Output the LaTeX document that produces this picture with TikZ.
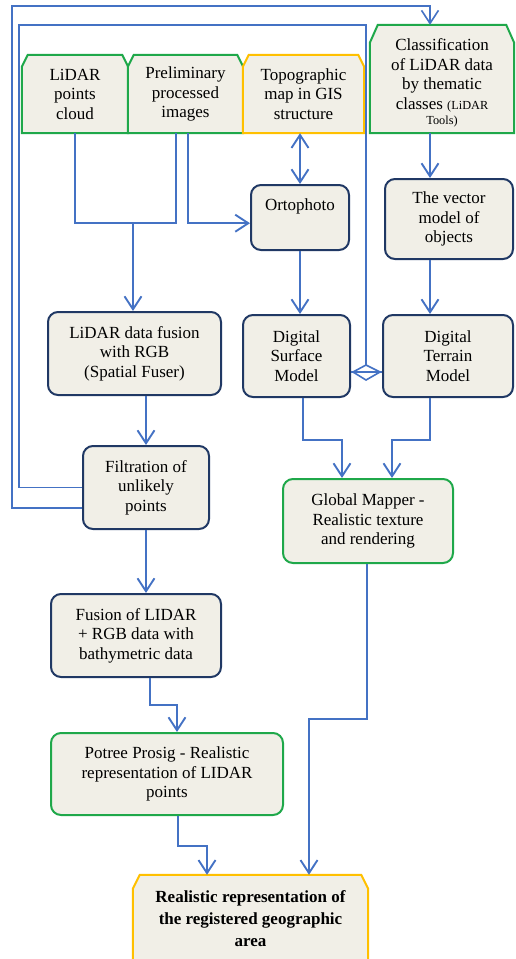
\documentclass[tikz,border=0pt]{standalone}
\usepackage{fontspec}
\setmainfont{Liberation Serif}
\usetikzlibrary{arrows.meta,calc,backgrounds}
\definecolor{fillc}{HTML}{F1EFE7}
\definecolor{navy}{HTML}{203864}
\definecolor{grn}{HTML}{1FA84A}
\definecolor{yel}{HTML}{FFC000}
\definecolor{lblue}{HTML}{4472C4}
% name, colour, chamfer x, chamfer y, extra height above the node's north edge
\newcommand\chambox[5]{%
 \begin{scope}[on background layer]
 \draw[line width=2pt, draw=#2, fill=fillc] (#1.south west) -- ($(#1.north west)+(0,#4-#5)$) -- ($(#1.north west)+(#3,-#5)$) -- ($(#1.north east)+(-#3,-#5)$) -- ($(#1.north east)+(0,#4-#5)$) -- (#1.south east) -- cycle;
 \end{scope}}
\begin{document}
\begin{tikzpicture}[x=1pt,y=-1pt,
  txt/.style={align=center, inner sep=2pt, font=\fontsize{17}{19.5}\selectfont},
  cnode/.style={txt, rectangle},
  rbox/.style={txt, rectangle, draw=navy, fill=fillc, line width=2pt, rounded corners=10pt},
  gbox/.style={rbox, draw=grn},
  ln/.style={draw=lblue, line width=1.9pt},
  arr/.style={ln, -{Straight Barb[length=13pt,width=17pt]}},
  dbl/.style={ln, {Straight Barb[length=13pt,width=17pt]}-{Straight Barb[length=13pt,width=17pt]}},
  fb/.style={draw=lblue, line width=1.6pt}]
\useasboundingbox (0,0) rectangle (516,959);

% chamfered boxes
\node[cnode, minimum width=106, minimum height=78] (lidar) at (75,94) {LiDAR\\points\\cloud};
\node[cnode, minimum width=115, minimum height=78] (prelim) at (185.5,94) {Preliminary\\processed\\images};
\node[cnode, minimum width=121, minimum height=78] (topo) at (303.5,94) {Topographic\\map in GIS\\structure};
\node[cnode, minimum width=144, minimum height=100] (classif) at (442,83) {Classification\\of LiDAR data\\by thematic\\classes {\fontsize{12.3}{15}\selectfont (LiDAR}\\[-4.5pt]{\fontsize{12.3}{15}\selectfont Tools)}};
\node[cnode, minimum width=235, minimum height=87, font=\bfseries\fontsize{17}{22}\selectfont] (real) at (250.5,918.5) {Realistic representation of\\the registered geographic\\area};
\chambox{lidar}{grn}{6}{12}{0}
\chambox{prelim}{grn}{6}{12}{0}
\chambox{topo}{yel}{6}{12}{0}
\chambox{classif}{grn}{8}{18}{8}
\chambox{real}{yel}{7}{14}{0}
\coordinate (ctop) at ($(classif.north)+(-12,-8)$);

% rounded boxes
\node[rbox, minimum width=98, minimum height=65] (ortho) at (300,217.5) {Ortophoto\\\strut};
\node[rbox, minimum width=128, minimum height=80] (vector) at (449,219) {The vector\\model of\\objects};
\node[rbox, minimum width=173, minimum height=83] (fusion) at (134.5,353.5) {LiDAR data fusion\\with RGB\\(Spatial Fuser)};
\node[rbox, minimum width=107, minimum height=82] (dsm) at (296.5,356) {Digital\\Surface\\Model};
\node[rbox, minimum width=130, minimum height=82] (dtm) at (448,356) {Digital\\Terrain\\Model};
\node[rbox, minimum width=126, minimum height=83] (filt) at (146,487.5) {Filtration of\\unlikely\\points};
\node[gbox, minimum width=170, minimum height=84] (gm) at (368,521) {Global Mapper -\\Realistic texture\\and rendering};
\node[rbox, minimum width=170, minimum height=83] (fuslid) at (136,635.5) {Fusion of LIDAR\\+ RGB data with\\bathymetric data};
\node[gbox, minimum width=232, minimum height=82] (potree) at (167,774) {Potree Prosig - Realistic\\representation of LIDAR\\points};

% connectors
\coordinate (j) at ($(lidar.south)+(0,90)$);
\coordinate (fin) at ($(fusion.north)+(-1.5,0)$);
\draw[ln] (lidar.south) -- (j) -| ([xshift=-9.5pt]prelim.south);
\draw[arr] (j -| fin) -- (fin);
\draw[arr] ([xshift=2.5pt]prelim.south) |- (ortho.west |- j);
\draw[dbl] (topo.south -| ortho.north) -- (ortho.north);
\draw[arr] (ortho.south) -- (ortho.south |- dsm.north);
\draw[arr] ([xshift=-12pt]classif.south) -- ([xshift=-12pt]classif.south |- vector.north);
\draw[arr] ([xshift=-19pt]vector.south) -- ([xshift=-19pt]vector.south |- dtm.north);
\draw[arr] (filt.north |- fusion.south) -- (filt.north);
\draw[arr] (filt.south) -- (filt.south |- fuslid.north);
\draw[arr] ([xshift=14pt]fuslid.south) -- ++(0,27) -| ([xshift=10pt]potree.north);
\draw[arr] ([xshift=11pt]potree.south) -- ++(0,30) -| ([xshift=-43.5pt]real.north);
\draw[arr] ([xshift=6.5pt]dsm.south) -- ++(0,42) -| ([xshift=-26pt]gm.north);
\draw[arr] ([xshift=-18pt]dtm.south) -- ++(0,42) -| ([xshift=24pt]gm.north);
\draw[arr] ([xshift=-1pt]gm.south) -- ++(0,155) -| ([xshift=58.5pt]real.north);

% feedback lines
\coordinate (dmid) at (366,372);
\coordinate (dtop) at ($(dmid)+(0,-7)$);
\coordinate (itop) at (366,25);
\draw[fb] (filt.west) -- ++(-63,0) |- (itop) -- (dtop);
\draw[fb] ($(dmid)+(-13,0)$) -- (dtop) -- ($(dmid)+(14,0)$) -- ($(dmid)+(0,8)$) -- cycle;
\draw[fb] (dsm.east |- dmid) -- (dtm.west |- dmid);
\draw[fb, -{Straight Barb[length=13pt,width=17pt]}] ($(filt.west)+(0,20.5)$) -- ++(-70,0) |- ($(ctop)+(0,-19)$) -- (ctop);
\end{tikzpicture}
\end{document}
